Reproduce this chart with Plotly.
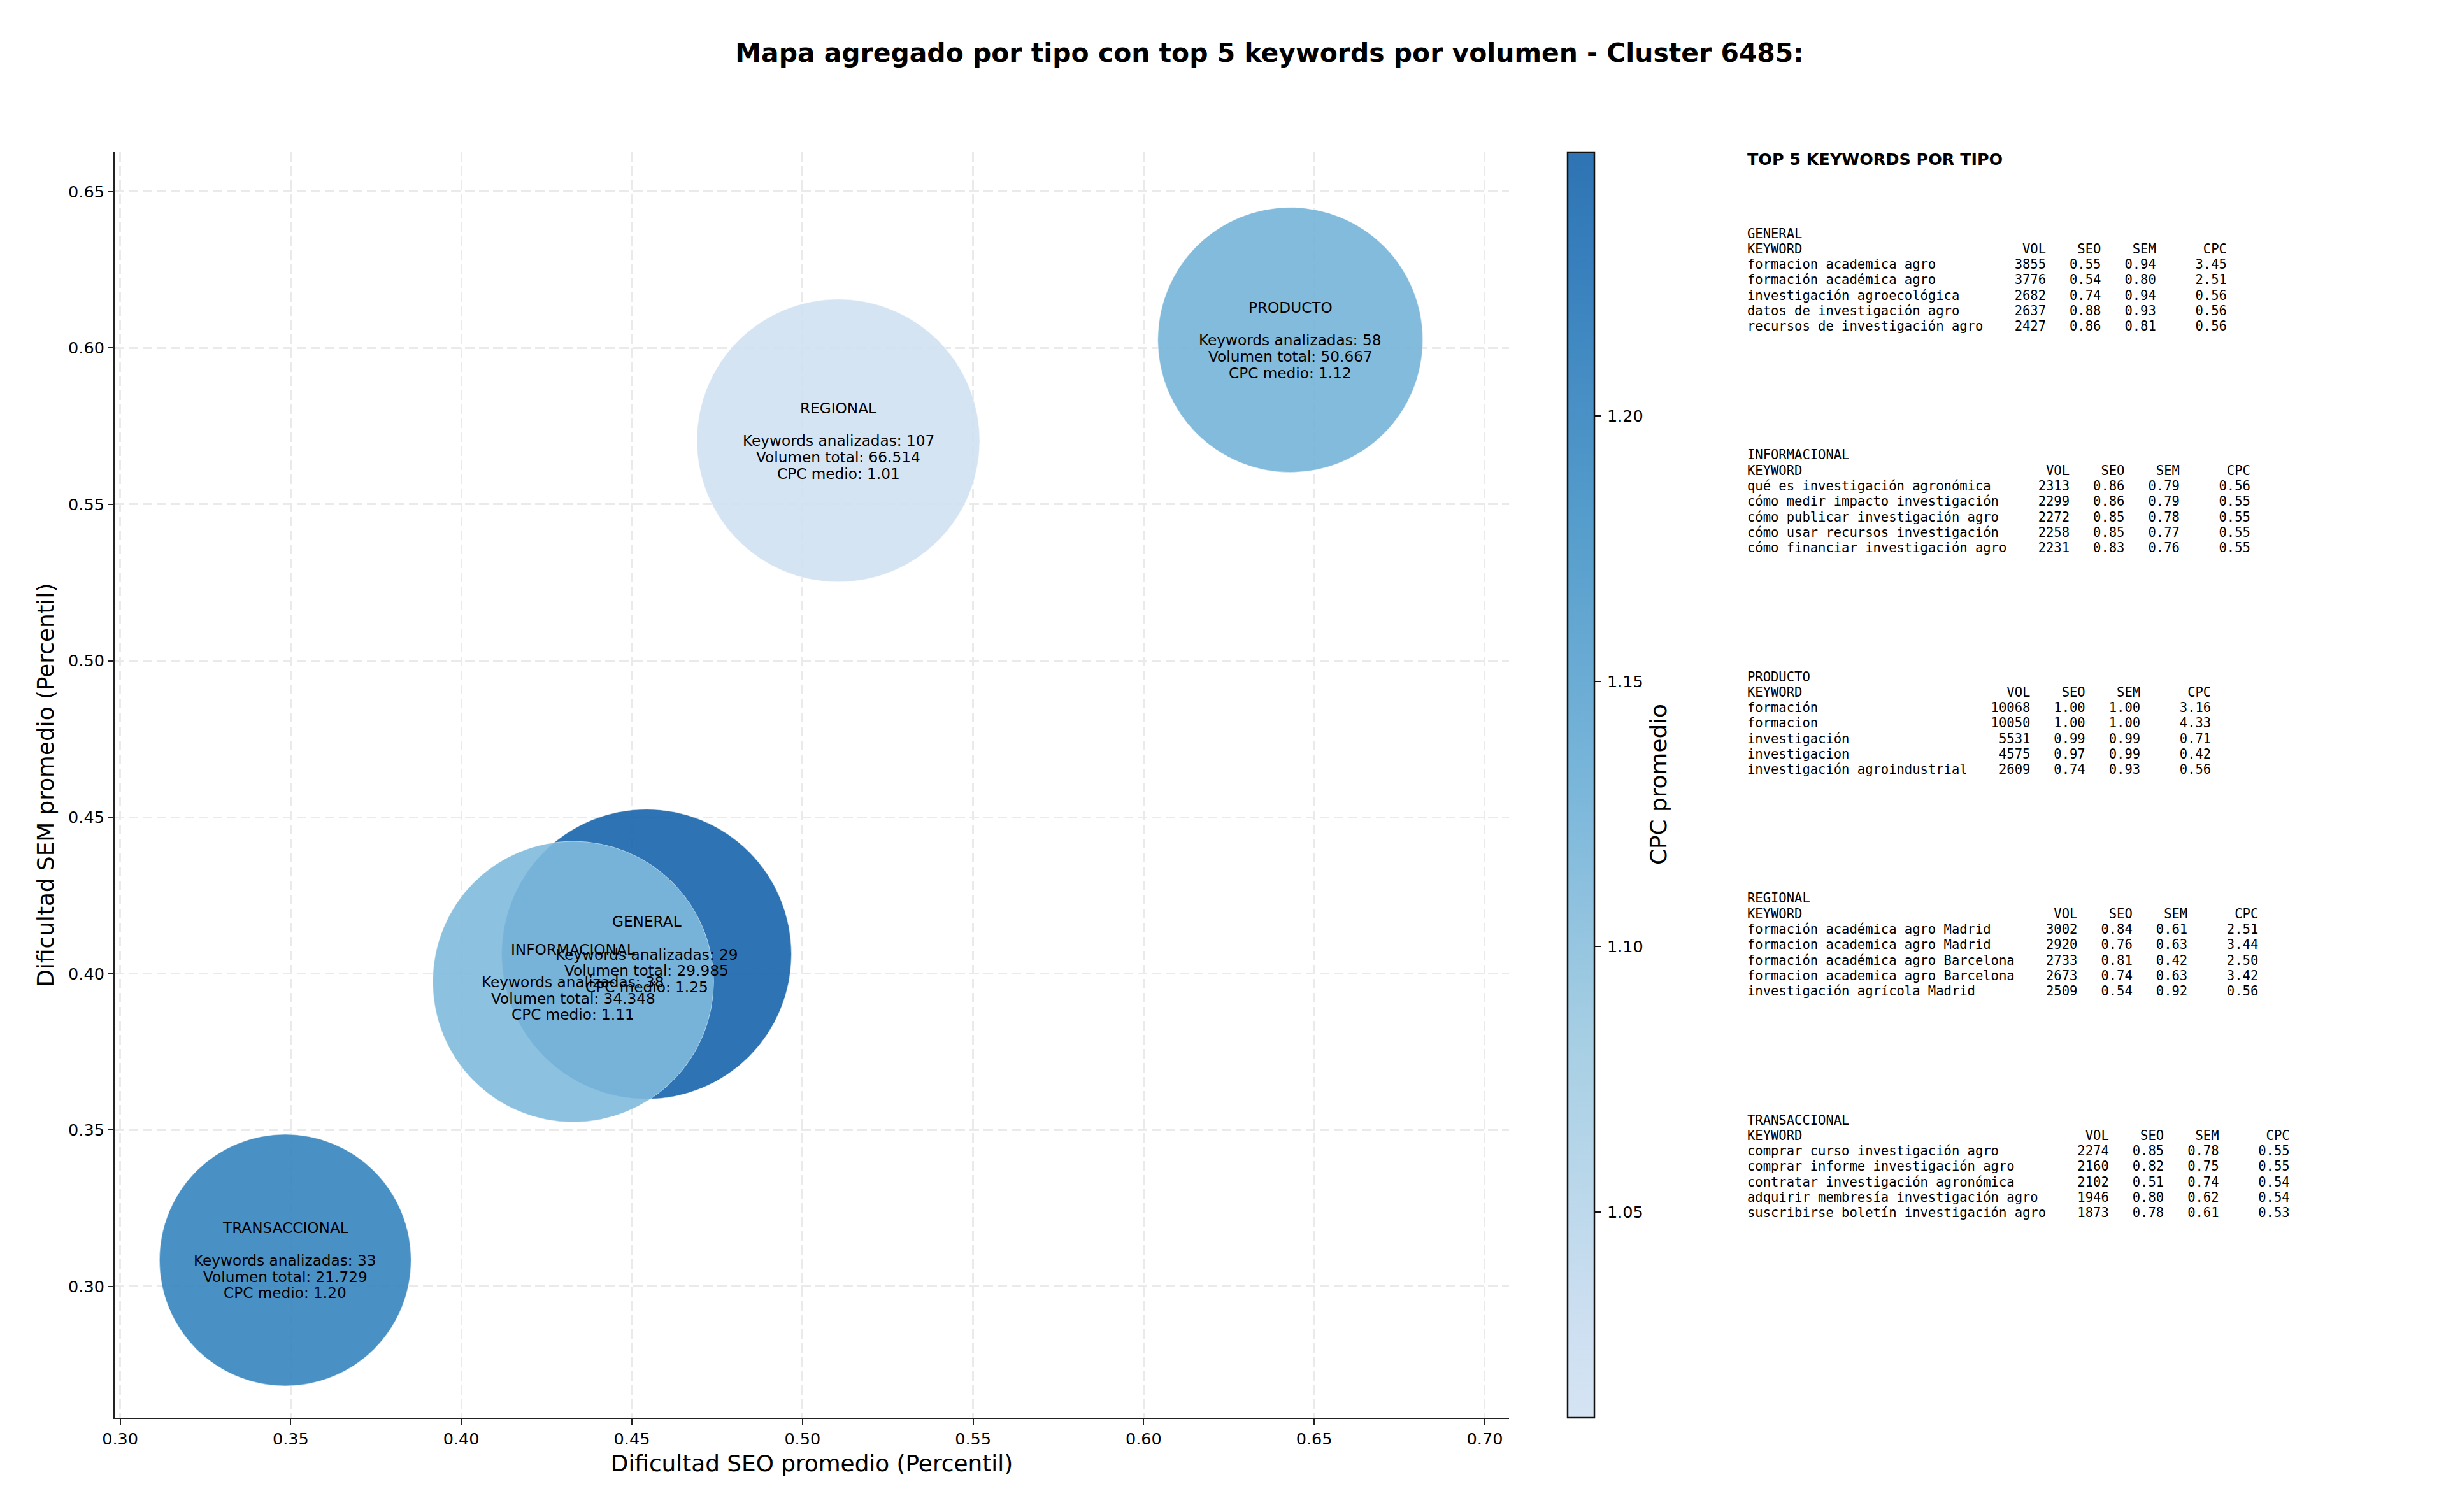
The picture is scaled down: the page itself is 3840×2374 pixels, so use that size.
import plotly.graph_objects as go

W, H = 3840, 2374

tipos = ["GENERAL", "INFORMACIONAL", "PRODUCTO", "REGIONAL", "TRANSACCIONAL"]
seo_medio = [0.4543, 0.4328, 0.6430, 0.5105, 0.3484]
sem_medio = [0.4062, 0.3974, 0.6026, 0.5704, 0.3084]
cpc_color = [1.2497, 1.1100, 1.1200, 1.0112, 1.2000]
keywords_n = [29, 38, 58, 107, 33]
volumen_txt = ["29.985", "34.348", "50.667", "66.514", "21.729"]
cpc_txt = ["1.25", "1.11", "1.12", "1.01", "1.20"]
burbuja = [455, 441, 416, 444, 395]

general_kw = ["formacion academica agro", "formación académica agro", "investigación agroecológica", "datos de investigación agro", "recursos de investigación agro"]
general_vol = [3855, 3776, 2682, 2637, 2427]
general_seo = [0.55, 0.54, 0.74, 0.88, 0.86]
general_sem = [0.94, 0.80, 0.94, 0.93, 0.81]
general_cpc = [3.45, 2.51, 0.56, 0.56, 0.56]

info_kw = ["qué es investigación agronómica", "cómo medir impacto investigación", "cómo publicar investigación agro", "cómo usar recursos investigación", "cómo financiar investigación agro"]
info_vol = [2313, 2299, 2272, 2258, 2231]
info_seo = [0.86, 0.86, 0.85, 0.85, 0.83]
info_sem = [0.79, 0.79, 0.78, 0.77, 0.76]
info_cpc = [0.56, 0.55, 0.55, 0.55, 0.55]

prod_kw = ["formación", "formacion", "investigación", "investigacion", "investigación agroindustrial"]
prod_vol = [10068, 10050, 5531, 4575, 2609]
prod_seo = [1.00, 1.00, 0.99, 0.97, 0.74]
prod_sem = [1.00, 1.00, 0.99, 0.99, 0.93]
prod_cpc = [3.16, 4.33, 0.71, 0.42, 0.56]

reg_kw = ["formación académica agro Madrid", "formacion academica agro Madrid", "formación académica agro Barcelona", "formacion academica agro Barcelona", "investigación agrícola Madrid"]
reg_vol = [3002, 2920, 2733, 2673, 2509]
reg_seo = [0.84, 0.76, 0.81, 0.74, 0.54]
reg_sem = [0.61, 0.63, 0.42, 0.63, 0.92]
reg_cpc = [2.51, 3.44, 2.50, 3.42, 0.56]

trans_kw = ["comprar curso investigación agro", "comprar informe investigación agro", "contratar investigación agronómica", "adquirir membresía investigación agro", "suscribirse boletín investigación agro"]
trans_vol = [2274, 2160, 2102, 1946, 1873]
trans_seo = [0.85, 0.82, 0.51, 0.80, 0.78]
trans_sem = [0.78, 0.75, 0.74, 0.62, 0.61]
trans_cpc = [0.55, 0.55, 0.54, 0.54, 0.53]

tablas = [
    ("GENERAL", general_kw, general_vol, general_seo, general_sem, general_cpc),
    ("INFORMACIONAL", info_kw, info_vol, info_seo, info_sem, info_cpc),
    ("PRODUCTO", prod_kw, prod_vol, prod_seo, prod_sem, prod_cpc),
    ("REGIONAL", reg_kw, reg_vol, reg_seo, reg_sem, reg_cpc),
    ("TRANSACCIONAL", trans_kw, trans_vol, trans_seo, trans_sem, trans_cpc),
]

A = 0.9
def rgba(r, g, b):
    return f"rgba({r},{g},{b},{A})"
escala = [
    [0.0, rgba(208, 225, 242)],
    [0.05 / 0.6, rgba(198, 219, 239)],
    [0.175 / 0.6, rgba(158, 202, 225)],
    [0.3 / 0.6, rgba(107, 174, 214)],
    [0.425 / 0.6, rgba(66, 146, 198)],
    [0.55 / 0.6, rgba(33, 113, 181)],
    [1.0, rgba(23, 100, 171)],
]

FONT = "DejaVu Sans"
MONO = "DejaVu Sans Mono"

# plot area in pixels
L, R, T, B = 180, 2369, 239, 2226

fig = go.Figure(go.Scatter(
    x=seo_medio, y=sem_medio, mode="markers", hoverinfo="skip",
    marker=dict(
        size=burbuja, color=cpc_color, cmin=1.0112, cmax=1.2497, colorscale=escala, opacity=1,
        line=dict(width=1, color="rgba(255,255,255,0.5)"),
        colorbar=dict(
            x=2461 / W, xref="paper", xanchor="left", xpad=0,
            y=1 - T / H, yref="paper", yanchor="top", ypad=0,
            len=(B - T) / H, lenmode="fraction", thickness=42, thicknessmode="pixels",
            outlinewidth=2.5, outlinecolor="#111", borderwidth=0,
            tickmode="linear", tick0=1.05, dtick=0.05, tickformat=".2f", tickprefix="\u2009",
            ticks="outside", ticklen=9, tickwidth=2, tickcolor="#111",
            tickfont=dict(family=FONT, size=25.5, color="#000"),
        ),
    ),
))

anotaciones = []
PASO = 25.7
for t, x, y, n, v, c in zip(tipos, seo_medio, sem_medio, keywords_n, volumen_txt, cpc_txt):
    lineas = [t, None, f"Keywords analizadas: {n}", f"Volumen total: {v}", f"CPC medio: {c}"]
    for i, s in enumerate(lineas):
        if s is None:
            continue
        anotaciones.append(dict(x=x, y=y, xref="x", yref="y", text=s, showarrow=False,
                                xanchor="center", yanchor="middle", yshift=-(i - 2) * PASO,
                                font=dict(family=FONT, size=23.2, color="#000")))

anotaciones.append(dict(x=2741 / W, y=1 - 250 / H, xref="paper", yref="paper", text="<b>TOP 5 KEYWORDS POR TIPO</b>",
                        showarrow=False, xanchor="left", yanchor="middle",
                        font=dict(family=FONT, size=25.4, color="#000")))

Y0, BLOQUE, LINEA = 366.5, 348, 24.3
for b, (nombre, kw, vol, seo, sem, cpc) in enumerate(tablas):
    ancho = max(len(k) for k in kw) + 2
    filas = [nombre, f"{'KEYWORD':<{ancho}}{'VOL':>6}{'SEO':>7}{'SEM':>7}{'CPC':>9}"]
    for k, a, s1, s2, c in zip(kw, vol, seo, sem, cpc):
        filas.append(f"{k:<{ancho}}{a:>6}{s1:>7.2f}{s2:>7.2f}{c:>9.2f}")
    for i, fila in enumerate(filas):
        anotaciones.append(dict(x=2741 / W, y=1 - (Y0 + b * BLOQUE + i * LINEA) / H, xref="paper", yref="paper",
                                text=fila, showarrow=False, xanchor="left", yanchor="middle", align="left",
                                font=dict(family=MONO, size=20.5, color="#000")))

anotaciones.append(dict(x=2604 / W, y=1 - 1232 / H, xref="paper", yref="paper", text="CPC promedio", textangle=-90,
                        showarrow=False, xanchor="center", yanchor="middle",
                        font=dict(family=FONT, size=35.8, color="#000")))

eje = dict(
    showline=True, linecolor="#222", linewidth=2, mirror=False, automargin=False,
    ticks="outside", ticklen=9, tickwidth=2, tickcolor="#222",
    tickfont=dict(family=FONT, size=25.5, color="#000"),
    showgrid=True, gridcolor="#eaeaea", gridwidth=2.5, griddash="15px,7px",
    zeroline=False, tickformat=".2f", dtick=0.05,
)

fig.update_layout(
    width=W, height=H, autosize=False, showlegend=False,
    margin=dict(l=0, r=0, t=0, b=0, pad=0),
    paper_bgcolor="white", plot_bgcolor="white",
    title=dict(text="<b>Mapa agregado por tipo con top 5 keywords por volumen - Cluster 6485:</b>",
               x=1993 / W, y=1 - 83 / H, xanchor="center", yanchor="middle", xref="container", yref="container",
               font=dict(family=FONT, size=40.9, color="#000")),
    xaxis=dict(eje, domain=[L / W, R / W], range=[0.2984, 0.7071], tick0=0.30,
               title=dict(text="Dificultad SEO promedio (Percentil)", standoff=12,
                          font=dict(family=FONT, size=35.8, color="#000"))),
    yaxis=dict(eje, domain=[1 - B / H, 1 - T / H], range=[0.258, 0.6626], tick0=0.30,
               title=dict(text="Dificultad SEM promedio (Percentil)", standoff=12,
                          font=dict(family=FONT, size=35.8, color="#000"))),
    annotations=anotaciones,
)

fig.write_html("out.html", config={"displayModeBar": False}, post_script="document.body.style.margin='0';")
